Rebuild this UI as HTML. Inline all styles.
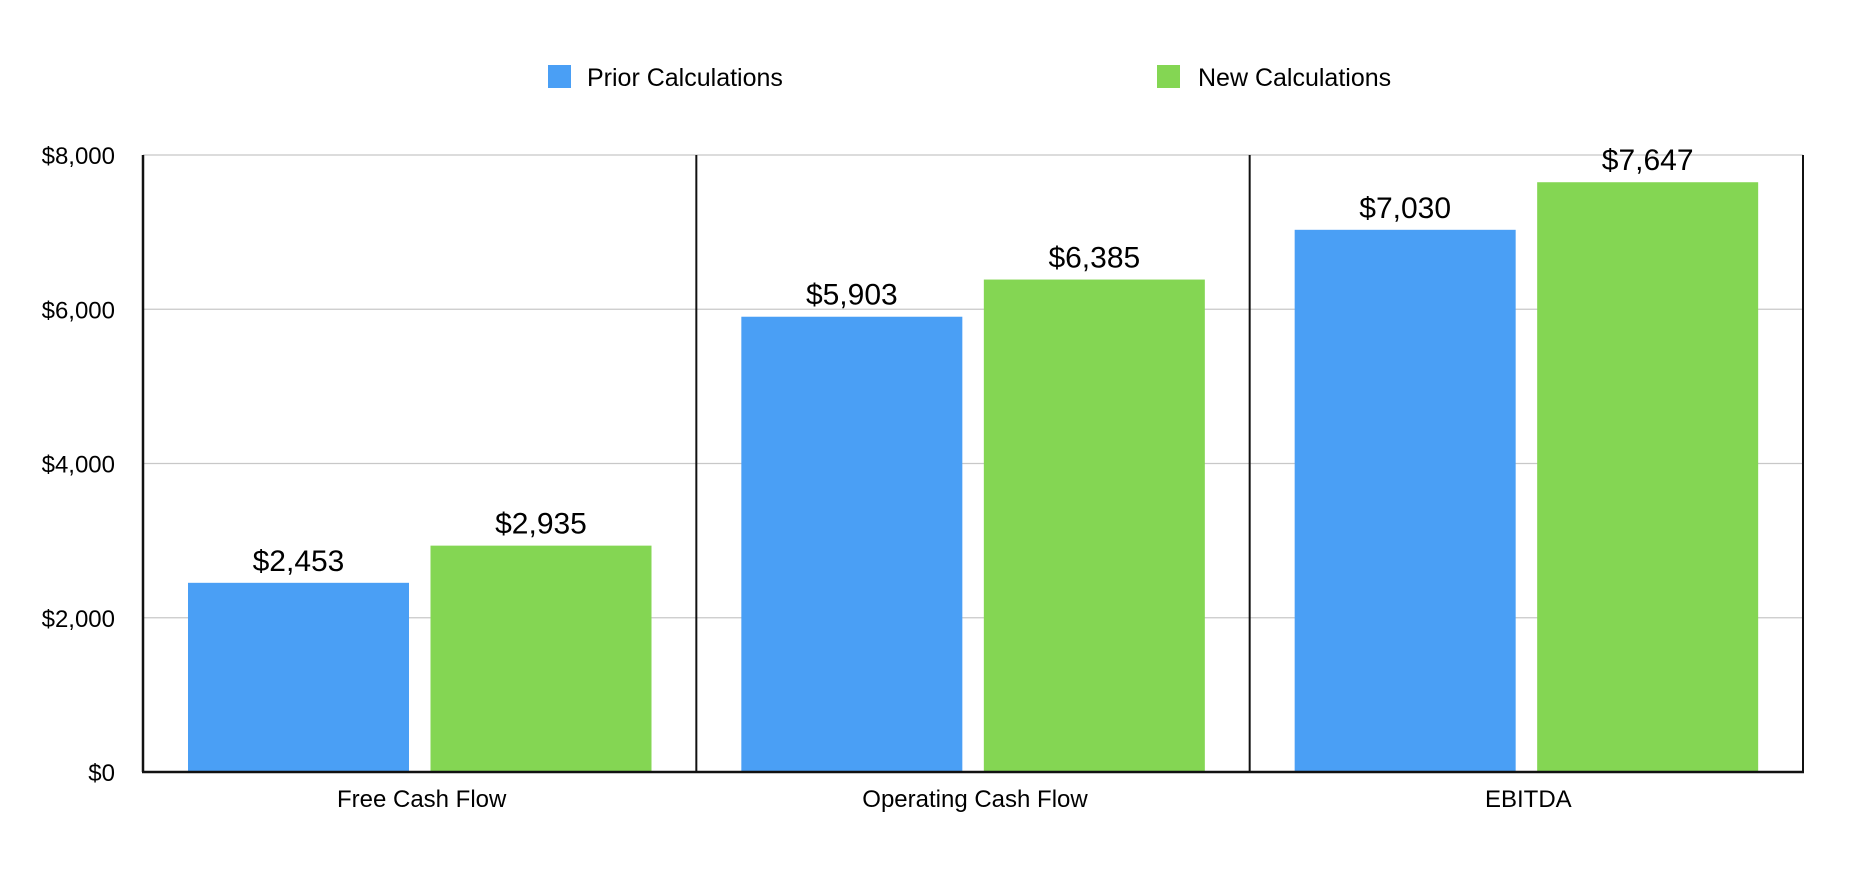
<!DOCTYPE html>
<html><head><meta charset="utf-8"><style>
html,body{margin:0;padding:0;background:#fff;}
svg{display:block;font-family:"Liberation Sans",Arial,sans-serif;}
</style></head><body>
<svg id="chart" width="1864" height="882" viewBox="0 0 1864 882" xmlns="http://www.w3.org/2000/svg">
<g id="legend">
  <rect x="548" y="65" width="23" height="23" fill="#4a9ff5"/>
  <text x="587" y="86" font-size="25" fill="#000">Prior Calculations</text>
  <rect x="1157" y="65" width="23" height="23" fill="#84d653"/>
  <text x="1198" y="86" font-size="25" fill="#000">New Calculations</text>
</g>
<g id="grid"></g>
<g id="yticks"></g>
<g id="bars"></g>
<g id="axes"></g>
<g id="xlabels"></g>
</svg>
<script>
const categories = ["Free Cash Flow", "Operating Cash Flow", "EBITDA"];
const priorValues = [2453, 5903, 7030];
const newValues = [2935, 6385, 7647];
const yTicks = [0, 2000, 4000, 6000, 8000];
const yTickLabels = ["$0", "$2,000", "$4,000", "$6,000", "$8,000"];

const NS = "http://www.w3.org/2000/svg";
const L = 143, R = 1803, T = 155, B = 772, YMAX = 8000;
const groupW = (R - L) / categories.length;
const barW = 221, barOff = 45, barGap = 21.5;
function y(v){ return B - (v / YMAX) * (B - T); }
function gx(i){ return L + i * groupW; }
function fmt(v){ return "$" + v.toLocaleString("en-US"); }
function mk(tag, attrs, parent){ const e = document.createElementNS(NS, tag); for (const k in attrs) e.setAttribute(k, attrs[k]); parent.appendChild(e); return e; }

const grid = document.getElementById("grid"), yt = document.getElementById("yticks");
yTicks.forEach((t, i) => {
  if (t > 0) {
    const ln = mk("line", {x1: L, x2: R, y1: y(t), y2: y(t), stroke: "#c8c8c8", "stroke-width": 1.2}, grid);
    
    
  }
  const tx = mk("text", {x: 115, y: y(t) + 9, "text-anchor": "end", "font-size": 24, fill: "#000"}, yt);
  tx.textContent = yTickLabels[i];
  
  
});

const bars = document.getElementById("bars"), xl = document.getElementById("xlabels");
categories.forEach((c, i) => {
  const x0 = gx(i) + barOff, x1 = x0 + barW + barGap;
  const b1 = mk("rect", {x: x0, y: y(priorValues[i]), width: barW, height: B - y(priorValues[i]), fill: "#4a9ff5"}, bars);
  
  
  const b2 = mk("rect", {x: x1, y: y(newValues[i]), width: barW, height: B - y(newValues[i]), fill: "#84d653"}, bars);
  
  
  const l1 = mk("text", {x: x0 + barW/2, y: y(priorValues[i]) - 12, "text-anchor": "middle", "font-size": 30, fill: "#000"}, bars);
  l1.textContent = fmt(priorValues[i]);
  
  
  const l2 = mk("text", {x: x1 + barW/2, y: y(newValues[i]) - 12, "text-anchor": "middle", "font-size": 30, fill: "#000"}, bars);
  l2.textContent = fmt(newValues[i]);
  
  
  const cl = mk("text", {x: gx(i) + groupW/2 + 2, y: 807, "text-anchor": "middle", "font-size": 24, fill: "#000"}, xl);
  cl.textContent = c;
  
  
});

const axes = document.getElementById("axes");
for (let i = 0; i <= categories.length; i++) {
  const ln = mk("line", {x1: gx(i), x2: gx(i), y1: T, y2: B, stroke: "#111", "stroke-width": i === 0 ? 2.5 : 2}, axes);
  
  
}
const base = mk("line", {x1: L - 1, x2: R + 1, y1: B, y2: B, stroke: "#111", "stroke-width": 2.5}, axes);


</script>
</body></html>
